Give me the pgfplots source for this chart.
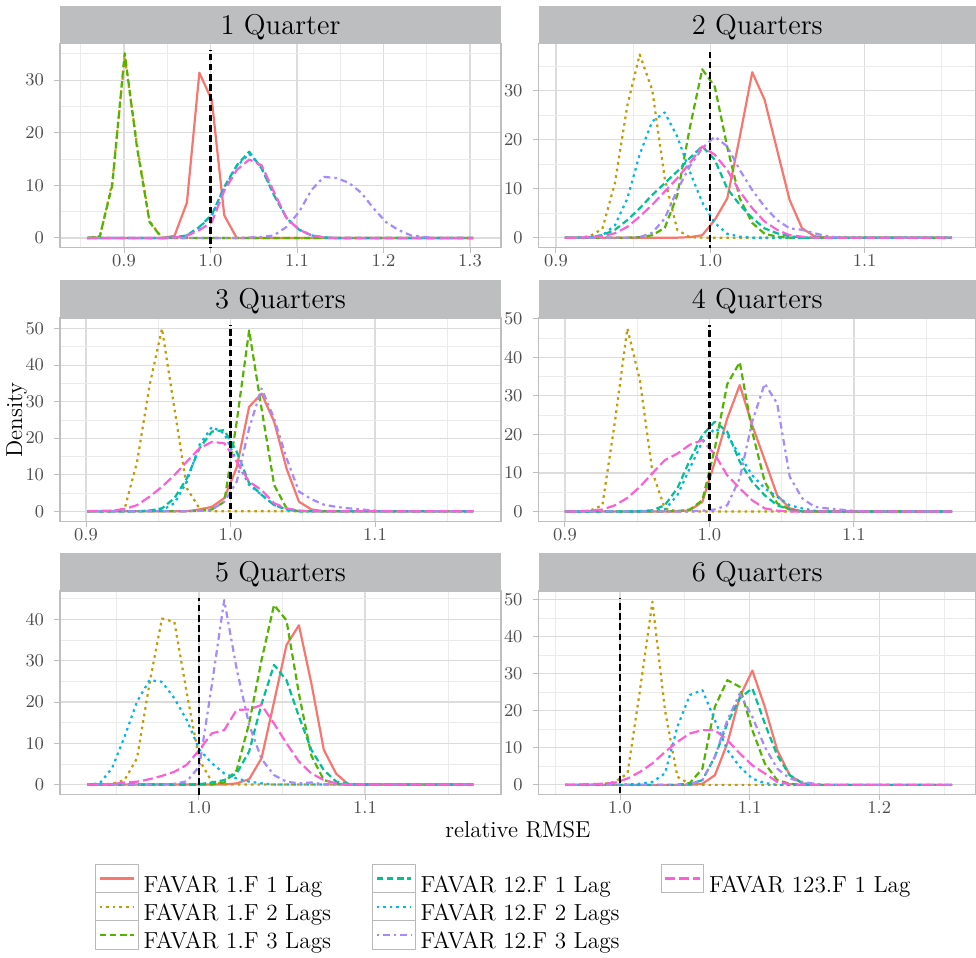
\documentclass[border=0pt]{standalone}
\usepackage{pgfplots}
\usepackage{pgfplotstable}
\pgfplotsset{compat=1.18}

\definecolor{c1}{HTML}{F8766D}
\definecolor{c2}{HTML}{C49A00}
\definecolor{c3}{HTML}{53B400}
\definecolor{c4}{HTML}{00C094}
\definecolor{c5}{HTML}{00B6EB}
\definecolor{c6}{HTML}{A58AFF}
\definecolor{c7}{HTML}{FB61D7}
\definecolor{stripcol}{RGB}{189,190,192}
\definecolor{gridmaj}{RGB}{220,220,220}
\definecolor{gridmin}{RGB}{235,235,235}
\definecolor{bordercol}{RGB}{190,190,190}
\definecolor{tickcol}{RGB}{77,77,77}
\definecolor{keybox}{RGB}{185,185,185}

% columns: r = 1.F 1 Lag, go = 1.F 2 Lags, gr = 1.F 3 Lags,
% te = 12.F 1 Lag, bl = 12.F 2 Lags, pu = 12.F 3 Lags, pk = 123.F 1 Lag
\pgfplotstableread{
x r go gr te bl pu pk
0.8576 0 0 0 0 0 0 0
0.8720 0 0.2 0.3 0 0 0 0
0.8864 0 10.5 10 0 0 0 0
0.9008 0 34.5 35.1 0 0 0 0
0.9152 0 17.5 17 0 0 0 0
0.9296 0 3.2 3 0 0 0 0
0.9439 0 0 0 0 0 0 0
0.9583 0.4 0 0 0.1 0.1 0 0.1
0.9727 6.7 0 0 0.5 0.5 0 0.4
0.9871 31.4 0 0 2.1 2.0 0 1.5
1.0015 26.2 0 0 4.4 4.3 0 3.0
1.0159 4.3 0 0 9.7 9.5 0 9.0
1.0303 0 0 0 13.8 13.6 0 12.9
1.0447 0 0 0 16.4 16.0 0.1 14.9
1.0591 0 0 0 13.2 13.4 0.2 13.8
1.0735 0 0 0 8.1 8.2 0.5 8.7
1.0878 0 0 0 3.8 3.9 2.1 3.8
1.1022 0 0 0 1.6 1.6 4.9 1.6
1.1166 0 0 0 0.5 0.5 9.1 0.5
1.1310 0 0 0 0.1 0.1 11.6 0.1
1.1454 0 0 0 0 0 11.4 0
1.1598 0 0 0 0 0 10.5 0
1.1742 0 0 0 0 0 8.6 0
1.1886 0 0 0 0 0 5.6 0
1.2030 0 0 0 0 0 3.0 0
1.2174 0 0 0 0 0 1.5 0
1.2317 0 0 0 0 0 0.5 0
1.2461 0 0 0 0 0 0.2 0
1.2605 0 0 0 0 0 0 0
1.3037 0 0 0 0 0 0 0
}\tabA

\pgfplotstableread{
x r go gr te bl pu pk
0.9058 0 0 0 0 0 0 0
0.9139 0 0 0 0 0 0 0
0.9220 0 0.3 0 0.1 0.1 0 0.1
0.9301 0 1.8 0 0.5 0.5 0 0.3
0.9382 0 11.1 0 1.6 2.5 0 0.9
0.9463 0 27.0 0 3.6 8.0 0 2.2
0.9543 0 37.3 0.1 6.0 17.0 0.1 4.3
0.9624 0 30.1 0.5 8.7 23.7 1.0 6.7
0.9705 0 12.1 2.0 11.1 25.5 3.9 9.4
0.9786 0 1.6 8.6 13.5 20.6 9.7 12.1
0.9867 0.1 0.1 22.3 16.2 13.5 14.5 15.2
0.9948 0.5 0 34.3 18.6 7.2 18.2 18.6
1.0029 3.6 0 30.8 15.9 3.0 20.6 16.9
1.0110 8.0 0 18.5 10.0 0.8 18.6 13.8
1.0191 20.5 0 8.0 6.7 0.2 13.8 9.4
1.0272 33.7 0 3.0 4.0 0 9.7 6.0
1.0352 28.1 0 0.8 1.9 0 6.3 3.3
1.0433 17.9 0 0.2 0.9 0 3.6 1.6
1.0514 7.7 0 0 0.3 0 1.9 0.5
1.0595 1.9 0 0 0 0 1.6 0.2
1.0676 0.3 0 0 0 0 0.9 0
1.0757 0 0 0 0 0 0.3 0
1.0838 0 0 0 0 0 0 0
1.1566 0 0 0 0 0 0 0
}\tabB

\pgfplotstableread{
x r go gr te bl pu pk
0.9009 0 0 0 0 0 0 0
0.9095 0 0 0 0 0 0 0.1
0.9181 0 0 0 0 0 0 0.2
0.9268 0 0.8 0 0 0 0 0.6
0.9354 0 13.6 0 0 0 0 1.7
0.9440 0 34.5 0 0.2 0.1 0 4.0
0.9526 0 50.0 0 0.8 0.3 0 6.7
0.9612 0 28.1 0 3.6 2.2 0 9.9
0.9698 0 6.3 0 9.0 8.1 0 13.6
0.9785 0.5 0.8 0.1 17.2 18.1 0.1 17.2
0.9871 1.2 0 0.5 21.8 23.1 0.5 19.0
0.9957 3.6 0 2.6 22.2 21.3 2.6 18.6
1.0043 12.0 0 24.5 16.3 13.6 8.1 13.6
1.0129 28.6 0 49.5 7.7 7.2 22.7 8.1
1.0215 32.2 0 28.1 4.5 4.5 33.6 5.8
1.0302 24.5 0 7.2 1.7 1.7 25.4 2.2
1.0388 11.7 0 0.8 0.5 0.5 14.5 0.8
1.0474 2.6 0 0 0 0 5.4 0.2
1.0560 0.5 0 0 0 0 3.3 0
1.0646 0 0 0 0 0 1.8 0
1.0732 0 0 0 0 0 1.2 0
1.0819 0 0 0 0 0 0.8 0
1.0905 0 0 0 0 0 0.5 0
1.0991 0 0 0 0 0 0.2 0
1.1077 0 0 0 0 0 0 0
1.1680 0 0 0 0 0 0 0
}\tabC

\pgfplotstableread{
x r go gr te bl pu pk
0.9000 0 0 0 0 0 0 0
0.9086 0 0 0 0 0 0 0
0.9173 0 0.2 0 0 0 0 0.2
0.9259 0 1.6 0 0 0 0 0.5
0.9346 0 23.3 0 0 0 0 1.6
0.9432 0 47.5 0 0 0 0 3.5
0.9519 0 34.0 0 0.1 0 0 6.4
0.9605 0 10.3 0 0.3 0.1 0 9.9
0.9691 0 0.8 0 1.6 0.5 0 13.3
0.9778 0 0 0.1 6.0 4.2 0 15.0
0.9864 0.3 0 0.5 13.3 11.2 0 17.3
0.9951 2.5 0 2.9 19.8 18.1 0.2 18.5
1.0037 12.8 0 16.3 23.3 21.5 0.5 14.8
1.0123 24.1 0 33.0 20.7 19.8 1.6 9.4
1.0210 32.8 0 38.7 12.9 14.6 8.6 6.0
1.0296 22.4 0 20.7 7.7 9.4 23.3 2.9
1.0383 13.3 0 7.7 4.2 6.0 33.2 0.8
1.0469 4.2 0 2.1 1.6 3.8 28.0 0.2
1.0556 0.8 0 0.5 0.5 1.6 9.0 0
1.0642 0 0 0 0 0.8 3.4 0
1.0728 0 0 0 0 0.2 1.2 0
1.0815 0 0 0 0 0 0.8 0
1.0901 0 0 0 0 0 0.5 0
1.0988 0 0 0 0 0 0.2 0
1.1074 0 0 0 0 0 0 0
1.1679 0 0 0 0 0 0 0
}\tabD

\pgfplotstableread{
x r go gr te bl pu pk
0.9327 0 0 0 0 0 0 0
0.9402 0 0 0 0 0.3 0 0
0.9477 0 0.2 0 0 4.0 0 0.1
0.9552 0 1.1 0 0 11.6 0 0.5
0.9627 0 6.4 0 0 20.1 0 0.7
0.9702 0 24.5 0 0 25.3 0 1.3
0.9777 0 40.2 0 0 24.9 0 2.1
0.9852 0 39.4 0 0 20.9 0.2 3.1
0.9927 0 22.1 0 0 15.6 0.8 4.8
1.0002 0 6.0 0 0.1 8.5 4.4 8.4
1.0077 0 0.7 0 0.5 5.2 24.0 12.4
1.0152 0 0.1 0.5 1.1 2.7 44.7 13.2
1.0227 0.3 0 3.5 2.7 1.5 28.0 18.1
1.0302 1.3 0 14.8 8.0 0.7 14.5 18.2
1.0377 6.4 0 30.2 19.5 0.3 6.2 19.3
1.0452 20.0 0 43.5 29.0 0 2.3 14.8
1.0527 33.8 0 39.8 25.3 0 0.7 10.0
1.0602 38.6 0 22.0 16.5 0 0.3 5.6
1.0677 24.5 0 7.0 8.4 0 0.5 2.7
1.0752 8.4 0 1.1 3.5 0 0.1 1.1
1.0827 2.6 0 0.2 0.7 0 0 0.3
1.0902 0 0 0 0.2 0 0 0
1.0977 0 0 0 0 0 0 0
1.1652 0 0 0 0 0 0 0
}\tabE

\pgfplotstableread{
x r go gr te bl pu pk
0.9576 0 0 0 0 0 0 0
0.9672 0 0 0 0 0 0 0.1
0.9769 0 0 0 0 0 0 0.2
0.9865 0 0.2 0 0 0 0 0.3
0.9961 0 0.8 0 0 0 0 0.6
1.0058 0 3.1 0 0 0.1 0 1.7
1.0154 0 25.6 0 0 0.3 0 3.5
1.0250 0 49.5 0 0 0.8 0 5.8
1.0347 0 20.2 0 0 3.1 0 8.9
1.0443 0 2.2 0 0 15.7 0 11.6
1.0539 0 0.2 0.5 0.2 24.3 0.2 13.9
1.0636 0.3 0 4.4 1.3 25.6 1.3 14.8
1.0732 2.6 0 21.1 7.6 17.5 7.6 14.8
1.0828 11.2 0 28.3 16.6 9.4 17.5 12.1
1.0924 23.8 0 26.5 23.4 4.9 24.7 8.5
1.1021 30.9 0 14.8 26.1 1.7 18.4 5.3
1.1117 21.1 0 5.8 16.6 0.5 10.3 3.1
1.1213 9.4 0 1.3 8.0 0 4.4 0.8
1.1310 2.6 0 0.3 2.6 0 1.7 0.2
1.1406 0.4 0 0 0.5 0 0.8 0
1.1502 0 0 0 0 0 0.3 0
1.1599 0 0 0 0 0 0 0
1.2562 0 0 0 0 0 0 0
}\tabF

\pgfplotsset{
  s1/.style={draw=c1, solid},
  s2/.style={draw=c2, dash pattern=on 1.3pt off 2pt},
  s3/.style={draw=c3, dash pattern=on 3.3pt off 1.8pt},
  s4/.style={draw=c4, dash pattern=on 3.3pt off 1.8pt},
  s5/.style={draw=c5, dash pattern=on 1.3pt off 2pt},
  s6/.style={draw=c6, dash pattern=on 1.3pt off 2pt on 3.3pt off 2pt},
  s7/.style={draw=c7, dash pattern=on 5pt off 2pt},
  vref/.style={draw=black, line width=1.2pt, dash pattern=on 3.3pt off 1.8pt, forget plot},
  facet/.style={
    anchor=south west,
    scale only axis,
    height=101.75pt,
    axis line style={draw=bordercol, line width=0.6pt},
    grid=both,
    major grid style={draw=gridmaj, line width=0.6pt},
    minor grid style={draw=gridmin, line width=0.35pt},
    minor tick length=0pt,
    major tick length=2.8pt,
    tick align=outside,
    tick pos=left,
    tick style={draw=bordercol, line width=0.5pt},
    tick label style={font=\fontsize{9.5}{11}\selectfont, text=tickcol},
    xticklabel style={anchor=north, inner sep=0pt, yshift=-0.9pt,
      /pgf/number format/.cd, fixed, fixed zerofill, precision=1},
    yticklabel style={anchor=east, inner sep=0pt, xshift=-5pt,
      /pgf/number format/.cd, fixed, precision=0},
    every axis plot/.append style={line width=1.1pt, line join=round, no markers},
  },
}
\tikzset{striptext/.style={anchor=base, font=\fontsize{14.3}{17}\selectfont, text=black}}

\newcommand{\allseries}[1]{%
  \addplot[s1, forget plot] table[x=x, y=r]{#1};
  \addplot[s2, forget plot] table[x=x, y=go]{#1};
  \addplot[s3, forget plot] table[x=x, y=gr]{#1};
  \addplot[s4, forget plot] table[x=x, y=te]{#1};
  \addplot[s5, forget plot] table[x=x, y=bl]{#1};
  \addplot[s6, forget plot] table[x=x, y=pu]{#1};
  \addplot[s7, forget plot] table[x=x, y=pk]{#1};
}

\newcommand{\strip}[2]{%
  \fill[stripcol] (#1.north west) rectangle ([yshift=19pt]#1.north east);
  \node[striptext] at ([yshift=4.8pt]#1.north) {#2};
}

\begin{document}
\begin{tikzpicture}
\path[use as bounding box] (0pt,0pt) rectangle (488pt,479pt);

% row 1
\begin{axis}[facet, name=p1, at={(30pt,355.35pt)}, width=220.5pt,
  xmin=0.826, xmax=1.3358, ymin=-1.77, ymax=36.9,
  xtick={0.9,1.0,1.1,1.2,1.3}, minor xtick={0.85,0.95,1.05,1.15,1.25},
  ytick={0,10,20,30}, minor ytick={5,15,25,35}]
\allseries{\tabA}
\addplot[vref] coordinates {(1,-5) (1,35.75)};
\end{axis}
\strip{p1}{1 Quarter}

\begin{axis}[facet, name=p2, at={(269.25pt,355.35pt)}, width=218.75pt,
  xmin=0.8887, xmax=1.1722, ymin=-1.96, ymax=39.5,
  xtick={0.9,1.0,1.1}, minor xtick={0.95,1.05,1.15},
  ytick={0,10,20,30}, minor ytick={5,15,25,35}]
\allseries{\tabB}
\addplot[vref] coordinates {(1,-5) (1,38.3)};
\end{axis}
\strip{p2}{2 Quarters}

% row 2
\begin{axis}[facet, name=p3, at={(30pt,218.25pt)}, width=220.5pt,
  xmin=0.882, xmax=1.1872, ymin=-2.8, ymax=52.9,
  xtick={0.9,1.0,1.1}, minor xtick={0.95,1.05,1.15},
  ytick={0,10,20,30,40,50}, minor ytick={5,15,25,35,45}]
\allseries{\tabC}
\addplot[vref] coordinates {(1,-5) (1,51.1)};
\end{axis}
\strip{p3}{3 Quarters}

\begin{axis}[facet, name=p4, at={(269.25pt,218.25pt)}, width=218.75pt,
  xmin=0.8817, xmax=1.1845, ymin=-2.6, ymax=50.2,
  xtick={0.9,1.0,1.1}, minor xtick={0.95,1.05,1.15},
  ytick={0,10,20,30,40,50}, minor ytick={5,15,25,35,45}]
\allseries{\tabD}
\addplot[vref] coordinates {(1,-5) (1,48.5)};
\end{axis}
\strip{p4}{4 Quarters}

% row 3
\begin{axis}[facet, name=p5, at={(30pt,81.75pt)}, width=220.5pt,
  xmin=0.9163, xmax=1.1819, ymin=-2.4, ymax=46.9,
  xtick={1.0,1.1}, minor xtick={0.95,1.05,1.15},
  ytick={0,10,20,30,40}, minor ytick={5,15,25,35,45},
  legend columns=3,
  legend cell align=left,
  legend image code/.code={%
    \draw[draw=keybox, line width=0.5pt, solid, fill=white] (0pt,-3.5pt) rectangle (21.3pt,10.7pt);
    \draw[#1, line width=1.1pt] (2pt,3.6pt) -- (19.3pt,3.6pt);
  },
  legend style={at={(0.0794,-0.341)}, anchor=north west, draw=none, fill=none,
    inner sep=0pt, outer sep=0pt, row sep=-1.75pt,
    font=\fontsize{11.6}{13}\selectfont,
    nodes={inner sep=0pt, text=black},
    /tikz/every odd column/.append style={column sep=2.5pt},
    /tikz/every even column/.append style={column sep=20.5pt}}]
\allseries{\tabE}
\addplot[vref] coordinates {(1,-5) (1,45.2)};
\addlegendimage{s1}\addlegendentry{FAVAR 1.F 1 Lag}
\addlegendimage{s4}\addlegendentry{FAVAR 12.F 1 Lag}
\addlegendimage{s7}\addlegendentry{FAVAR 123.F 1 Lag}
\addlegendimage{s2}\addlegendentry{FAVAR 1.F 2 Lags}
\addlegendimage{s5}\addlegendentry{FAVAR 12.F 2 Lags}
\addlegendimage{empty legend}\addlegendentry{}
\addlegendimage{s3}\addlegendentry{FAVAR 1.F 3 Lags}
\addlegendimage{s6}\addlegendentry{FAVAR 12.F 3 Lags}
\end{axis}
\strip{p5}{5 Quarters}

\begin{axis}[facet, name=p6, at={(269.25pt,81.75pt)}, width=218.75pt,
  xmin=0.9371, xmax=1.2747, ymin=-2.6, ymax=52.4,
  xtick={1.0,1.1,1.2}, minor xtick={0.95,1.05,1.15,1.25},
  ytick={0,10,20,30,40,50}, minor ytick={5,15,25,35,45}]
\allseries{\tabF}
\addplot[vref] coordinates {(1,-5) (1,50.6)};
\end{axis}
\strip{p6}{6 Quarters}

\node[font=\fontsize{11.5}{13}\selectfont] at (259pt,64pt) {relative RMSE};
\node[font=\fontsize{11.5}{13}\selectfont, rotate=90] at (8.3pt,269pt) {Density};
\end{tikzpicture}
\end{document}
